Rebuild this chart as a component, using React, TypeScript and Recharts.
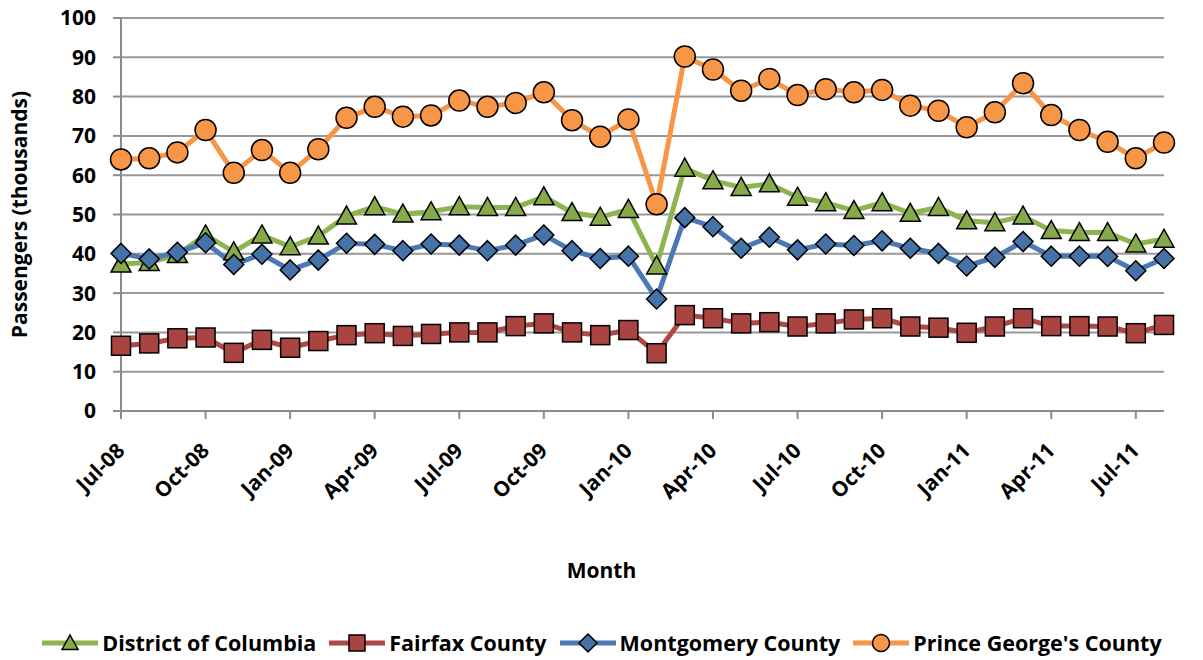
import { LineChart, Line, XAxis, YAxis, CartesianGrid, Legend, Label } from 'recharts';

const months = [
  'Jul-08', 'Aug-08', 'Sep-08', 'Oct-08', 'Nov-08', 'Dec-08', 'Jan-09', 'Feb-09', 'Mar-09', 'Apr-09',
  'May-09', 'Jun-09', 'Jul-09', 'Aug-09', 'Sep-09', 'Oct-09', 'Nov-09', 'Dec-09', 'Jan-10', 'Feb-10',
  'Mar-10', 'Apr-10', 'May-10', 'Jun-10', 'Jul-10', 'Aug-10', 'Sep-10', 'Oct-10', 'Nov-10', 'Dec-10',
  'Jan-11', 'Feb-11', 'Mar-11', 'Apr-11', 'May-11', 'Jun-11', 'Jul-11', 'Aug-11',
];

const districtOfColumbia = [
  37.4, 37.8, 39.8, 44.8, 40.5, 44.8, 41.8, 44.5, 49.6, 52.0,
  50.1, 50.7, 52.0, 51.8, 51.8, 54.5, 50.5, 49.3, 51.3, 36.9,
  61.8, 58.6, 56.9, 57.8, 54.4, 53.0, 51.0, 53.0, 50.3, 51.8,
  48.4, 47.9, 49.6, 45.9, 45.4, 45.4, 42.5, 43.7,
];

const fairfax = [
  16.6, 17.2, 18.5, 18.7, 14.8, 18.1, 16.1, 17.8, 19.3, 19.8,
  19.1, 19.6, 20.0, 20.0, 21.6, 22.3, 20.0, 19.3, 20.6, 14.7,
  24.4, 23.6, 22.3, 22.6, 21.5, 22.3, 23.3, 23.6, 21.5, 21.2,
  19.9, 21.5, 23.6, 21.6, 21.6, 21.5, 19.8, 21.9,
];

const montgomery = [
  40.1, 38.7, 40.4, 42.8, 37.3, 39.9, 35.9, 38.4, 42.7, 42.4,
  40.8, 42.5, 42.2, 40.8, 42.2, 44.8, 40.8, 38.8, 39.4, 28.5,
  49.2, 46.9, 41.4, 44.2, 41.0, 42.5, 42.1, 43.3, 41.4, 40.1,
  36.9, 39.1, 43.1, 39.4, 39.4, 39.3, 35.7, 38.8,
];

const princeGeorges = [
  64.0, 64.3, 65.8, 71.5, 60.6, 66.4, 60.6, 66.6, 74.6, 77.4,
  74.9, 75.2, 79.0, 77.4, 78.4, 81.1, 74.0, 69.8, 74.2, 52.6,
  90.2, 86.9, 81.5, 84.5, 80.4, 81.9, 81.1, 81.7, 77.7, 76.4,
  72.2, 76.0, 83.4, 75.3, 71.5, 68.5, 64.3, 68.3,
];

const yTicks = [0, 10, 20, 30, 40, 50, 60, 70, 80, 90, 100];

const data = months.map((m, i) => ({
  month: m,
  dc: districtOfColumbia[i],
  fairfax: fairfax[i],
  montgomery: montgomery[i],
  pg: princeGeorges[i],
}));

const FONT = '"Open Sans", sans-serif';

const C = {
  dcLine: '#8eb44f', dcFill: '#86a94a',
  ffLine: '#ad4845', ffFill: '#a94440',
  mcLine: '#4a7ab5', mcFill: '#4572a7',
  pgLine: '#f79646', pgFill: '#f79646',
};

const triangle = (cx: number, cy: number, fill: string, s = 10) => (
  <polygon
    points={`${cx},${cy - s} ${cx + s},${cy + s * 0.8} ${cx - s},${cy + s * 0.8}`}
    fill={fill} stroke="#000" strokeWidth={1.5}
  />
);
const square = (cx: number, cy: number, fill: string, s = 9.5) => (
  <rect x={cx - s} y={cy - s} width={s * 2} height={s * 2} fill={fill} stroke="#000" strokeWidth={1.5} />
);
const diamond = (cx: number, cy: number, fill: string, s = 10) => (
  <polygon
    points={`${cx},${cy - s} ${cx + s},${cy} ${cx},${cy + s} ${cx - s},${cy}`}
    fill={fill} stroke="#000" strokeWidth={1.5}
  />
);
const circle = (cx: number, cy: number, fill: string, r = 10.5) => (
  <circle cx={cx} cy={cy} r={r} fill={fill} stroke="#000" strokeWidth={1.5} />
);

const XTick = (props: any) => {
  const { x, y, payload } = props;
  return (
    <g transform={`translate(${x + 5},${y + 33})`}>
      <text transform="rotate(-45)" textAnchor="end" fontFamily={FONT} fontWeight={700} fontSize={21} fill="#000">
        {payload.value}
      </text>
    </g>
  );
};

const legendItems = [
  { name: 'District of Columbia', color: C.dcLine, mark: (cx: number, cy: number) => triangle(cx, cy, C.dcFill, 8) },
  { name: 'Fairfax County', color: C.ffLine, mark: (cx: number, cy: number) => square(cx, cy, C.ffFill, 8) },
  { name: 'Montgomery County', color: C.mcLine, mark: (cx: number, cy: number) => diamond(cx, cy, C.mcFill, 9) },
  { name: "Prince George's County", color: C.pgLine, mark: (cx: number, cy: number) => circle(cx, cy, C.pgFill, 8.5) },
];

const LegendContent = () => (
  <div style={{ display: 'flex', justifyContent: 'center', alignItems: 'center', gap: 12, height: 26 }}>
    {legendItems.map((it) => (
      <div key={it.name} style={{ display: 'flex', alignItems: 'center' }}>
        <svg width={58} height={24}>
          <line x1={1} y1={12} x2={57} y2={12} stroke={it.color} strokeWidth={5} />
          {it.mark(29, 12)}
        </svg>
        <span style={{ fontFamily: FONT, fontWeight: 700, fontSize: 21.5, marginLeft: 3, color: '#000', lineHeight: '26px' }}>
          {it.name}
        </span>
      </div>
    ))}
  </div>
);

export default function App() {
  return (
    <div style={{ position: 'absolute', left: 0, top: 0, width: 1203, height: 660, background: '#fff' }}>
      <LineChart width={1203} height={660} data={data} margin={{ top: 18, right: 39, bottom: 48, left: 0 }}>
        <CartesianGrid vertical={false} stroke="#989898" strokeWidth={2} />
        <XAxis
          dataKey="month"
          interval={2}
          tick={<XTick />}
          tickSize={8}
          tickMargin={0}
          height={175}
          stroke="#8c8c8c"
          strokeWidth={2}
        >
          <Label
            value="Month"
            position="insideBottom"
            offset={8}
            dx={-41}
            style={{ fontFamily: FONT, fontWeight: 700, fontSize: 21, fill: '#000' }}
          />
        </XAxis>
        <YAxis
          domain={[0, 100]}
          ticks={yTicks}
          width={121}
          tickSize={8}
          tickMargin={17}
          stroke="#8c8c8c"
          strokeWidth={2}
          tick={{ fontFamily: FONT, fontWeight: 700, fontSize: 21, fill: '#000' }}
        >
          <Label
            value="Passengers (thousands)"
            angle={-90}
            position="insideLeft"
            offset={20}
            style={{ textAnchor: 'middle', fontFamily: FONT, fontWeight: 700, fontSize: 21, fill: '#000' }}
          />
        </YAxis>
        <Legend
          verticalAlign="bottom"
          content={<LegendContent />}
          wrapperStyle={{ bottom: 4, left: 0, width: 1203 }}
        />
        <Line dataKey="dc" name="District of Columbia" stroke={C.dcLine} strokeWidth={5} isAnimationActive={false}
          dot={(p: any) => <g key={`dc${p.index}`}>{triangle(p.cx, p.cy, C.dcFill)}</g>} />
        <Line dataKey="fairfax" name="Fairfax County" stroke={C.ffLine} strokeWidth={5} isAnimationActive={false}
          dot={(p: any) => <g key={`ff${p.index}`}>{square(p.cx, p.cy, C.ffFill)}</g>} />
        <Line dataKey="montgomery" name="Montgomery County" stroke={C.mcLine} strokeWidth={5} isAnimationActive={false}
          dot={(p: any) => <g key={`mc${p.index}`}>{diamond(p.cx, p.cy, C.mcFill)}</g>} />
        <Line dataKey="pg" name="Prince George's County" stroke={C.pgLine} strokeWidth={5} isAnimationActive={false}
          dot={(p: any) => <g key={`pg${p.index}`}>{circle(p.cx, p.cy, C.pgFill)}</g>} />
      </LineChart>
    </div>
  );
}
